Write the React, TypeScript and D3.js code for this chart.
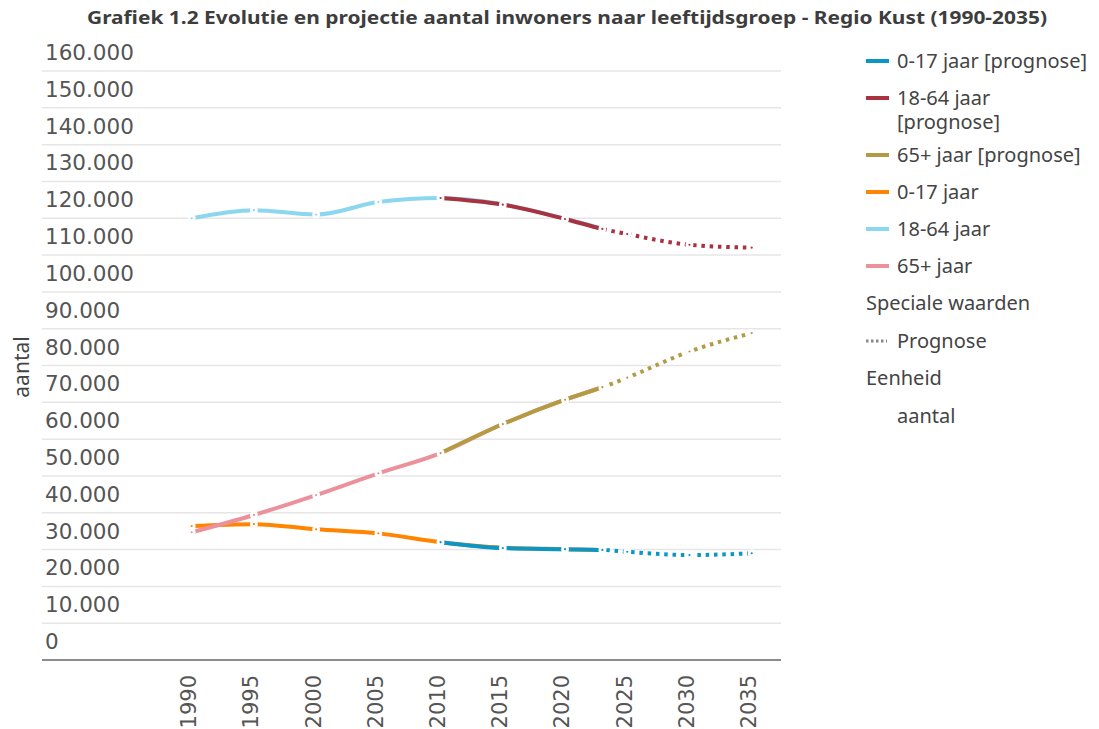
import React, { useEffect } from "react";
import * as d3 from "d3";

// jaren met waarnemingen en met prognose
const histYears = [1990, 1995, 2000, 2005, 2010, 2015, 2020, 2023];
const progYears = [2010, 2015, 2020, 2023, 2025, 2030, 2035];
const lastObserved = 2023;

// waargenomen aantallen
const jong = [36400, 36900, 35500, 34400, 32000, 30500, 30100, 29900];
const actief = [120000, 122200, 121000, 124400, 125500, 123800, 119900, 117200];
const oud = [34700, 39400, 44800, 50700, 56200, 64100, 70700, 74100];

// prognose
const jongProg = [32000, 30400, 30100, 29900, 29400, 28500, 29000];
const actiefProg = [125500, 123700, 119800, 117100, 115700, 112800, 112000];
const oudProg = [56200, 64100, 70700, 74100, 76700, 83800, 88800];

const yTicks = d3.range(0, 160001, 10000);
const xTicks = d3.range(1990, 2036, 5);

const legendItems = [
  { label: ["0-17 jaar [prognose]"], color: "#0b97c6" },
  { label: ["18-64 jaar", "[prognose]"], color: "#a8323f" },
  { label: ["65+ jaar [prognose]"], color: "#b49b43" },
  { label: ["0-17 jaar"], color: "#ff8400" },
  { label: ["18-64 jaar"], color: "#8dd6f0" },
  { label: ["65+ jaar"], color: "#ec919b" },
];

const fmt = (v: number) => d3.format(",")(v).replace(/,/g, ".");

export default function App() {
  useEffect(() => {
    document.body.style.margin = "0";
  }, []);

  const width = 1099;
  const height = 729;
  const x = d3.scaleLinear().domain([1990, 2035]).range([191.7, 751.7]);
  const y = d3.scaleLinear().domain([0, 160000]).range([660, 71]);
  const gridLeft = 42;
  const gridRight = 781;

  const line = d3
    .line<[number, number]>()
    .x((d) => x(d[0]))
    .y((d) => y(d[1]))
    .curve(d3.curveMonotoneX);

  const hist = [
    { values: jong, color: "#ff8400" },
    { values: actief, color: "#8dd6f0" },
    { values: oud, color: "#ec919b" },
  ];
  const prog = [
    { values: jongProg, color: "#0b97c6" },
    { values: actiefProg, color: "#a8323f" },
    { values: oudProg, color: "#b49b43" },
  ];

  const splitX = x(lastObserved);
  const font = "'Noto Sans', 'Open Sans', sans-serif";
  const tickFont = "'DejaVu Sans', sans-serif";

  const markers = (pts: [number, number][], color: string) =>
    pts.map((p, i) => (
      <circle key={i} cx={x(p[0])} cy={y(p[1])} r={2.5} fill={color} stroke="#fff" strokeWidth={2.8} />
    ));

  return (
    <svg width={width} height={height} style={{ display: "block" }}>
      <defs>
        <clipPath id="solid">
          <rect x={0} y={0} width={splitX} height={height} />
        </clipPath>
        <clipPath id="dotted">
          <rect x={splitX} y={0} width={width - splitX} height={height} />
        </clipPath>
      </defs>

      <text
        x={567}
        y={24}
        textAnchor="middle"
        fontFamily={font}
        fontWeight="bold"
        fontSize={17.5}
        fill="#3d3d3d"
        textLength={960}
        lengthAdjust="spacingAndGlyphs"
      >
        Grafiek 1.2 Evolutie en projectie aantal inwoners naar leeftijdsgroep - Regio Kust (1990-2035)
      </text>

      {/* rasterlijnen en y-labels */}
      {yTicks.map((t) => (
        <g key={t}>
          {t > 0 && (
            <line x1={gridLeft} x2={gridRight} y1={y(t)} y2={y(t)} stroke="#e6e6e6" strokeWidth={1.5} />
          )}
          <text x={45} y={y(t) - 11} fontFamily={tickFont} fontSize={21.5} fill="#555">
            {fmt(t)}
          </text>
        </g>
      ))}
      <line x1={gridLeft} x2={gridRight} y1={y(0)} y2={y(0)} stroke="#666" strokeWidth={1.5} />

      <text
        transform={`translate(29,367) rotate(-90)`}
        textAnchor="middle"
        fontFamily={font}
        fontSize={21}
        fill="#444"
      >
        aantal
      </text>

      {/* x-labels */}
      {xTicks.map((t) => (
        <text
          key={t}
          transform={`translate(${x(t) - 3},675) rotate(-90)`}
          textAnchor="end"
          dy="0.35em"
          fontFamily={tickFont}
          fontSize={21}
          fill="#555"
        >
          {t}
        </text>
      ))}

      {/* waarnemingen */}
      {hist.map((s, i) => {
        const pts = histYears.map((yr, j) => [yr, s.values[j]] as [number, number]);
        return (
          <g key={"h" + i}>
            <path d={line(pts) ?? ""} fill="none" stroke={s.color} strokeWidth={4} />
            {markers(pts, s.color)}
          </g>
        );
      })}

      {/* prognose */}
      {prog.map((s, i) => {
        const pts = progYears.map((yr, j) => [yr, s.values[j]] as [number, number]);
        const d = line(pts) ?? "";
        return (
          <g key={"p" + i}>
            <path d={d} fill="none" stroke={s.color} strokeWidth={4} clipPath="url(#solid)" />
            <path
              d={d}
              fill="none"
              stroke={s.color}
              strokeWidth={4}
              strokeDasharray="3.5 4.8"
              clipPath="url(#dotted)"
            />
            {markers(pts, s.color)}
          </g>
        );
      })}

      {/* legende */}
      {legendItems.map((it, i) => {
        const rows = [61, 98, 155, 192, 229, 266];
        const cy = rows[i];
        return (
          <g key={"l" + i}>
            <line x1={866} x2={889} y1={cy} y2={cy} stroke={it.color} strokeWidth={4} />
            <text x={897} y={cy + 7} fontFamily={font} fontSize={20} fill="#444">
              {it.label.map((l, k) => (
                <tspan key={k} x={897} dy={k === 0 ? 0 : 23.5}>
                  {l}
                </tspan>
              ))}
            </text>
          </g>
        );
      })}
      <text x={866} y={310} fontFamily={font} fontSize={20} fill="#444">
        Speciale waarden
      </text>
      <line x1={866} x2={887} y1={341} y2={341} stroke="#888" strokeWidth={3} strokeDasharray="2.5 2.5" />
      <text x={897} y={348} fontFamily={font} fontSize={20} fill="#444">
        Prognose
      </text>
      <text x={866} y={385} fontFamily={font} fontSize={20} fill="#444">
        Eenheid
      </text>
      <text x={897} y={423} fontFamily={font} fontSize={20} fill="#444">
        aantal
      </text>
    </svg>
  );
}
